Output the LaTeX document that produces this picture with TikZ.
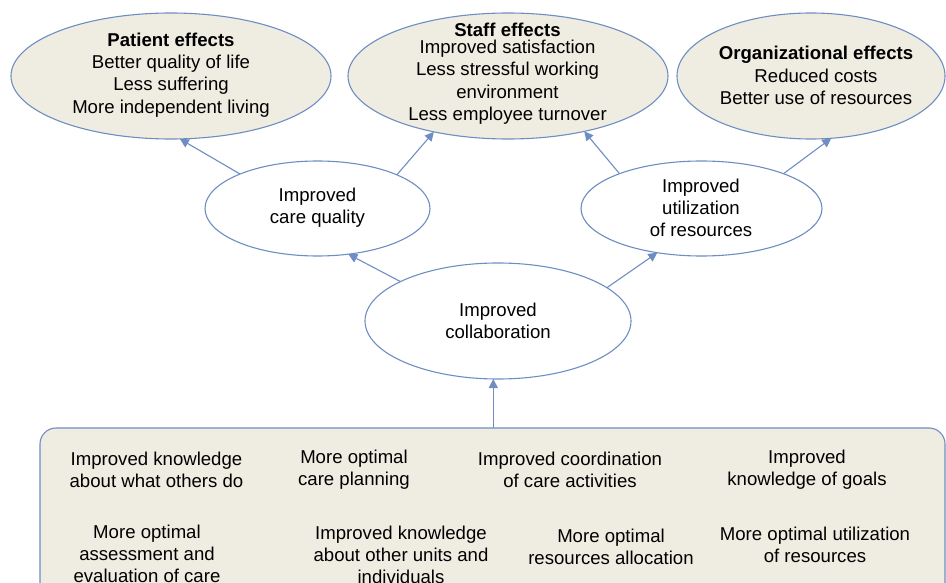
\documentclass[tikz,border=0pt]{standalone}
\usepackage{fontspec}
\setmainfont{Liberation Sans}
\usetikzlibrary{shapes.geometric,arrows.meta}
\definecolor{edgeblue}{RGB}{110,142,195}
\definecolor{beige}{RGB}{239,237,225}
\tikzset{
  every node/.style={font=\fontsize{18.6}{22.3}\selectfont, inner sep=0pt, outer sep=0pt},
  topell/.style={ellipse, draw=edgeblue, line width=1.1pt, fill=beige},
  midell/.style={ellipse, draw=edgeblue, line width=1.1pt, fill=white},
  txt/.style={align=center, text=black},
  arr/.style={draw=edgeblue, line width=1.1pt, -{Triangle[length=9pt,width=9pt]}},
}
\begin{document}
\begin{tikzpicture}[x=1pt,y=-1pt]
\useasboundingbox (0,0) rectangle (946,583);
\clip (0,0) rectangle (946,583);
% top ellipses
\node[topell, minimum width=320, minimum height=126] (pat) at (171,76) {};
\node[topell, minimum width=320, minimum height=126] (staff) at (508,76) {};
\node[topell, minimum width=268, minimum height=126] (org) at (811,76) {};
\node[txt] (patT) at (171,75) {\textbf{Patient effects}\\Better quality of life\\Less suffering\\More independent living};
\node[txt] (staffT) at (507.5,73.5) {\textbf{Staff effects}\\[-5pt]Improved satisfaction\\Less stressful working\\environment\\Less employee turnover};
\node[txt] (orgT) at (816,75.5) {\textbf{Organizational effects}\\Reduced costs\\Better use of resources};
% middle ellipses
\node[midell, minimum width=225, minimum height=95] (cq) at (317.5,208.5) {};
\node[txt] (cqT) at (317.5,207.5) {Improved\\care quality};
\node[midell, minimum width=241, minimum height=95] (util) at (701.5,208.5) {};
\node[txt] (utilT) at (701,208) {Improved\\utilization\\of resources};
\node[midell, minimum width=266, minimum height=116] (collab) at (498,321) {};
\node[txt] (collabT) at (498,321) {Improved\\collaboration};
% bottom box
\node[draw=edgeblue, line width=1.1pt, fill=beige, rounded corners=16pt, minimum width=905, minimum height=200, anchor=north west] (box) at (40,428) {};
\node[txt] (b1) at (156.5,470) {Improved knowledge\\about what others do};
\node[txt] (b2) at (354,470) {More optimal\\care planning};
\node[txt] (b3) at (570,470) {Improved coordination\\of care activities};
\node[txt] (b4) at (807,470) {Improved\\knowledge of goals};
\node[txt] (b5) at (147,554) {More optimal\\assessment and\\evaluation of care};
\node[txt] (b6) at (401,555) {Improved knowledge\\about other units and\\individuals};
\node[txt] (b7) at (611,546.5) {More optimal\\resources allocation};
\node[txt] (b8) at (815,545) {More optimal utilization\\of resources};
% arrows
\draw[arr] (cq.156) -- (pat.-82);
\draw[arr] (cq.23) -- (staff.-143);
\draw[arr] (util.157) -- (staff.-36);
\draw[arr] (util.23) -- (org.-72);
\draw[arr] (collab.158) -- (cq.-56);
\draw[arr] (collab.17) -- (util.-135);
\coordinate (boxtop) at (493.3,428);
\draw[arr] (boxtop) -- (boxtop |- collab.south);
\end{tikzpicture}
\end{document}
